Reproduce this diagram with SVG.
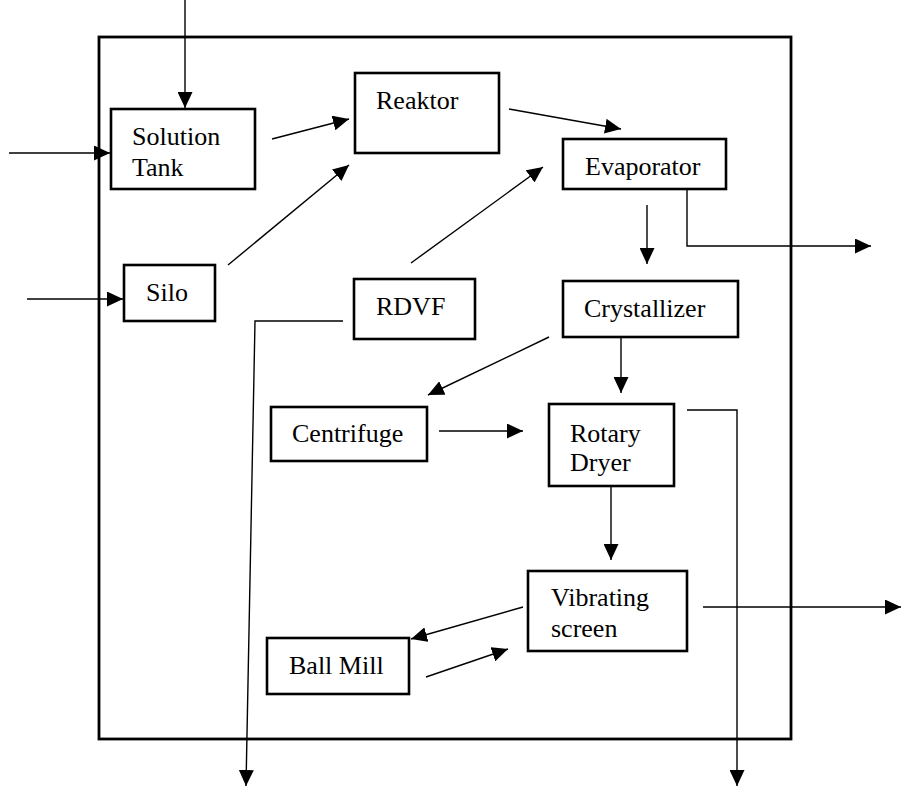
<svg xmlns="http://www.w3.org/2000/svg" width="901" height="788" viewBox="0 0 901 788">
  <style>
    .box { fill: #fff; stroke: #000; stroke-width: 2.6; }
    .frame { fill: none; stroke: #000; stroke-width: 2.8; }
    .lbl { font-family: 'Liberation Serif', 'Times New Roman', serif; font-size: 26px; fill: #000; }
    .conn line, .conn polyline { fill: none; stroke: #000; stroke-width: 1.4; }
    .arr { marker-end: url(#head); }
  </style>
  <defs>
    <marker id="head" markerUnits="userSpaceOnUse" markerWidth="16" markerHeight="15" refX="16" refY="7.5" orient="auto">
      <path d="M0,0 L16,7.5 L0,15 z" fill="#000"/>
    </marker>
  </defs>
  <rect width="901" height="788" fill="#fff"/>

  <!-- plant boundary -->
  <rect id="plant" class="frame" x="99" y="37" width="692" height="702"/>

  <!-- process units -->
  <g id="solution-tank">
    <rect class="box" x="111" y="109" width="144" height="80"/>
    <text class="lbl" x="132" y="145">Solution</text>
    <text class="lbl" x="132" y="176">Tank</text>
  </g>
  <g id="reaktor">
    <rect class="box" x="355" y="73" width="144" height="80"/>
    <text class="lbl" x="376" y="109">Reaktor</text>
  </g>
  <g id="evaporator">
    <rect class="box" x="563" y="139" width="163" height="50"/>
    <text class="lbl" x="585" y="175">Evaporator</text>
  </g>
  <g id="silo">
    <rect class="box" x="124" y="265" width="91" height="56"/>
    <text class="lbl" x="146" y="301">Silo</text>
  </g>
  <g id="rdvf">
    <rect class="box" x="354" y="279" width="121" height="60"/>
    <text class="lbl" x="376" y="315">RDVF</text>
  </g>
  <g id="crystallizer">
    <rect class="box" x="563" y="281" width="175" height="56"/>
    <text class="lbl" x="584" y="317">Crystallizer</text>
  </g>
  <g id="centrifuge">
    <rect class="box" x="271" y="407" width="156" height="54"/>
    <text class="lbl" x="292" y="442">Centrifuge</text>
  </g>
  <g id="rotary-dryer">
    <rect class="box" x="549" y="404" width="125" height="82"/>
    <text class="lbl" x="570" y="442">Rotary</text>
    <text class="lbl" x="570" y="471">Dryer</text>
  </g>
  <g id="vibrating-screen">
    <rect class="box" x="528" y="571" width="159" height="80"/>
    <text class="lbl" x="551" y="606">Vibrating</text>
    <text class="lbl" x="551" y="637">screen</text>
  </g>
  <g id="ball-mill">
    <rect class="box" x="267" y="638" width="142" height="56"/>
    <text class="lbl" x="289" y="674">Ball Mill</text>
  </g>

  <!-- streams -->
  <g id="connectors" class="conn">
    <line class="arr" x1="185" y1="0" x2="185" y2="108"/>
    <line class="arr" x1="9" y1="153" x2="110" y2="153"/>
    <line class="arr" x1="27" y1="299" x2="123" y2="299"/>
    <line class="arr" x1="272" y1="139" x2="349" y2="119"/>
    <line class="arr" x1="228" y1="265" x2="349" y2="165"/>
    <line class="arr" x1="509" y1="109" x2="621" y2="129"/>
    <line class="arr" x1="411" y1="263" x2="543" y2="167"/>
    <polyline class="arr" points="687,189 687,246 871,246"/>
    <line class="arr" x1="647" y1="205" x2="647" y2="264"/>
    <polyline class="arr" points="343,321 255,321 246,786"/>
    <line class="arr" x1="621" y1="337" x2="621" y2="393"/>
    <line class="arr" x1="549" y1="337" x2="428" y2="395"/>
    <line class="arr" x1="439" y1="431" x2="523" y2="431"/>
    <polyline class="arr" points="687,410 737,410 737,786"/>
    <line class="arr" x1="611" y1="486" x2="611" y2="560"/>
    <line class="arr" x1="523" y1="607" x2="411" y2="639"/>
    <line class="arr" x1="426" y1="677" x2="508" y2="649"/>
    <line class="arr" x1="703" y1="607" x2="901" y2="607"/>
  </g>
</svg>
